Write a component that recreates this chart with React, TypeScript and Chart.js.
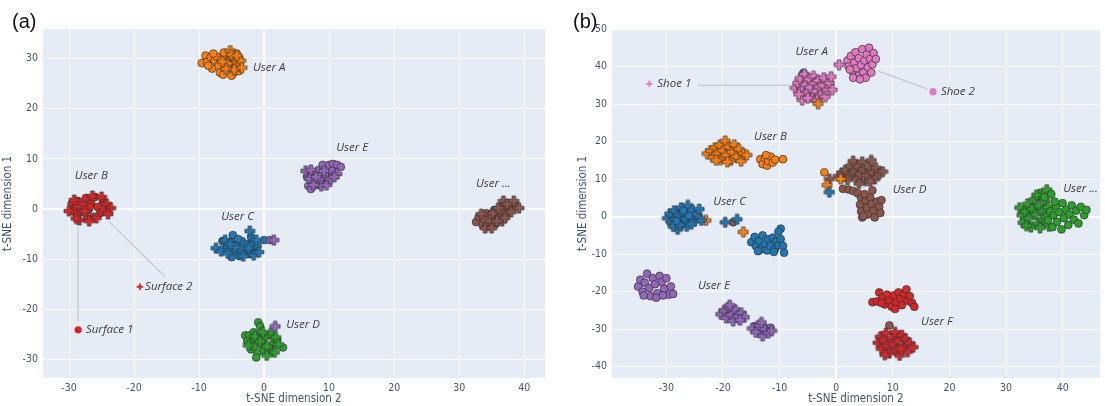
import React, { useEffect, useRef } from "react";
import { Chart, registerables } from "chart.js";

Chart.register(...registerables);

type P = [number, number];

const BLUE = "#1f77b4";
const ORANGE = "#ff7f0e";
const GREEN = "#2ca02c";
const RED = "#d62728";
const PURPLE = "#9467bd";
const BROWN = "#8c564b";
const PINK = "#e377c2";

// ---------------- Panel (a) data ----------------
const aUserACircles: P[] = [[-9.6,29.1],[-9.0,30.6],[-8.8,29.3],[-8.2,30.3],[-8.0,28.0],[-7.6,29.6],[-7.3,30.4],[-7.0,28.6],[-6.8,27.2],[-6.6,29.8],[-6.3,26.8],[-6.0,30.4],[-5.8,28.2],[-5.5,29.4],[-5.2,30.3],[-4.8,27.0],[-4.5,28.8],[-4.2,31.0],[-3.9,27.5],[-3.8,30.0],[-7.8,31.0],[-8.6,28.6],[-6.2,31.2],[-5.0,26.6]];
const aUserACrosses: P[] = [[-5.2,31.6],[-4.8,30.2],[-4.4,29.2],[-4.0,28.6],[-3.6,29.6],[-5.6,29.0],[-4.6,27.8],[-5.9,28.0],[-3.4,28.2],[-5.0,30.8],[-6.4,29.4],[-4.2,30.6]];
const aUserBCircles: P[] = [[-29.6,1.0],[-29.0,0.2],[-28.6,1.6],[-28.2,-0.6],[-27.8,0.8],[-27.4,2.2],[-27.0,-0.2],[-26.6,1.2],[-26.2,-1.6],[-26.0,2.4],[-25.6,0.4],[-25.2,-0.8],[-28.8,-1.2],[-27.2,-1.8],[-24.8,1.4],[-29.4,-0.4],[-26.8,0.4]];
const aUserBCrosses: P[] = [[-30.0,-0.4],[-29.2,1.8],[-28.4,-2.2],[-27.6,-0.4],[-26.4,2.6],[-25.0,2.4],[-24.6,-0.2],[-24.2,1.0],[-23.6,0.2],[-25.8,-1.8],[-24.0,-1.0],[-28.9,-1.9],[-26.9,-2.4]];
const aUserCCircles: P[] = [[-6.4,-6.4],[-5.8,-7.8],[-5.2,-6.6],[-4.8,-5.2],[-4.6,-8.6],[-4.2,-7.2],[-3.8,-9.4],[-3.4,-6.4],[-3.0,-8.2],[-2.6,-7.0],[-2.2,-9.0],[-1.8,-6.8],[-1.4,-8.2],[-1.0,-7.4],[-2.0,-5.6],[-5.0,-9.6],[-3.6,-8.0],[0.0,-6.2],[-4.0,-6.0]];
const aUserCCrosses: P[] = [[-7.4,-7.8],[-6.6,-8.4],[-6.0,-6.2],[-5.6,-8.8],[-4.4,-7.6],[-3.2,-9.4],[-2.4,-7.8],[-1.6,-9.2],[-2.2,-4.4],[-1.2,-6.2],[-5.2,-7.0],[-0.8,-8.6]];
const aUserDCircles: P[] = [[-0.9,-22.6],[-0.6,-23.4],[-2.9,-25.2],[-2.3,-25.2],[-1.6,-24.6],[-0.8,-25.6],[-1.8,-26.6],[-0.4,-27.0],[1.4,-26.8],[2.0,-26.2],[2.9,-27.6],[-2.0,-28.0],[-1.0,-28.6],[0.0,-28.2],[1.2,-28.4],[-1.2,-29.6],[-1.6,-27.4],[0.8,-25.2],[-2.6,-26.4]];
const aUserDCrosses: P[] = [[-1.4,-25.4],[0.2,-25.4],[1.0,-24.8],[1.8,-25.6],[2.2,-27.0],[0.4,-27.4],[1.6,-28.6],[0.4,-29.2],[-0.6,-26.4],[-2.4,-27.2],[-0.2,-24.6]];
const aUserECircles: P[] = [[6.6,6.4],[6.8,4.6],[7.4,5.6],[7.8,7.0],[8.4,7.8],[8.6,5.8],[9.0,8.8],[9.4,6.8],[10.0,8.8],[10.6,9.0],[11.2,8.8],[11.8,8.4],[10.4,7.6],[9.8,5.6],[7.2,4.0],[8.2,4.8]];
const aUserECrosses: P[] = [[6.4,7.6],[7.2,7.8],[7.0,6.0],[8.0,6.4],[8.8,4.6],[9.6,4.8],[10.2,6.0],[11.2,7.0],[9.2,7.6],[7.6,4.8],[10.8,6.4]];
const aPurpleStrayCircles: P[] = [[0.9,-6.2]];
const aPurpleStrayCrosses: P[] = [[1.5,-6.2],[1.7,-23.4]];
const aUserXCircles: P[] = [[32.6,-2.6],[33.0,-1.6],[33.6,-3.2],[33.8,-2.0],[34.2,-0.8],[34.6,-2.6],[35.0,-1.4],[35.4,-0.2],[35.6,-3.0],[36.0,-1.8],[36.4,-0.4],[36.8,0.6],[37.2,-1.0],[37.6,0.2],[38.2,0.8],[38.8,0.6],[34.2,-3.6]];
const aUserXCrosses: P[] = [[33.4,-1.0],[34.0,-3.8],[35.0,-3.8],[35.2,-0.8],[36.0,0.2],[36.6,-2.4],[36.8,1.6],[37.4,1.0],[38.0,-0.6],[38.4,1.6],[39.2,0.2],[37.0,-1.8],[35.8,-2.4]];
const aSurface1: P[] = [[-28.6,-24.1]];
const aSurface2: P[] = [[-19.1,-15.5]];

const aLabelText = ["User A", "User B", "User C", "User D", "User E", "User ...", "Surface 1", "Surface 2"];
const aLabelX = [-1.7, -29.1, -6.6, 3.4, 11.1, 32.6, -27.4, -18.3];
const aLabelY = [28.1, 6.6, -1.6, -23.1, 12.2, 5.0, -24.1, -15.5];
const aLinks: [number, number, number, number][] = [[-28.6, -3.2, -28.6, -22.3], [-23.8, -2.6, -15.2, -13.5]];

// ---------------- Panel (b) data ----------------
const bUserACrosses: P[] = [[-7.2,34.3],[-6.8,35.6],[-6.4,36.8],[-6.0,34.0],[-6.0,31.1],[-5.6,38.0],[-5.4,35.2],[-5.2,33.0],[-4.8,36.6],[-4.6,34.4],[-4.2,31.8],[-4.0,37.4],[-3.8,35.6],[-3.6,33.4],[-3.2,36.2],[-3.0,34.6],[-2.8,32.4],[-2.4,35.0],[-2.2,37.0],[-1.9,32.0],[-1.6,33.8],[-1.2,35.6],[-0.7,33.8],[-6.6,32.6],[-5.0,31.6],[-3.4,31.0],[-0.9,37.3],[0.5,40.5]];
const bUserACircles: P[] = [[2.0,41.6],[2.2,40.0],[2.6,42.8],[2.8,38.8],[3.2,41.0],[3.4,43.8],[3.6,39.6],[3.8,37.4],[4.0,42.2],[4.4,40.4],[4.6,44.6],[4.8,38.4],[5.0,41.6],[5.4,43.2],[5.6,39.8],[5.8,45.0],[6.0,42.0],[6.4,40.6],[6.6,43.6],[7.0,42.0],[5.2,37.0],[3.0,37.0],[4.2,36.6],[6.2,38.4],[2.4,39.2]];
const bShoe1: P[] = [[-33.0,35.4]];
const bShoe2: P[] = [[17.1,33.3]];
const bUserBCrosses: P[] = [[-22.8,16.8],[-22.2,17.6],[-21.8,15.8],[-21.4,18.4],[-21.0,16.8],[-20.6,19.0],[-20.4,15.2],[-20.0,17.6],[-19.6,20.2],[-19.4,16.4],[-19.0,18.6],[-18.6,15.0],[-18.4,17.2],[-18.0,19.2],[-17.6,16.0],[-17.2,18.0],[-16.8,14.8],[-16.4,16.8],[-15.8,16.4],[-21.2,15.0],[-19.2,14.6]];
const bUserBCircles: P[] = [[-13.4,15.3],[-13.0,14.0],[-12.6,15.6],[-12.2,13.6],[-12.0,14.8],[-11.6,16.0],[-11.2,14.4],[-10.8,15.2],[-9.4,15.3],[-12.4,16.4]];
const bUserDCrosses: P[] = [[0.4,10.8],[1.0,11.6],[1.6,12.4],[2.2,11.0],[2.6,13.6],[3.0,14.8],[3.2,12.0],[3.6,10.2],[3.8,13.4],[4.2,11.4],[4.6,14.6],[4.8,12.6],[5.2,9.6],[5.4,11.0],[5.8,13.2],[6.2,15.0],[6.4,11.8],[6.8,10.0],[7.0,13.0],[7.6,11.4],[8.2,12.0],[2.0,9.8],[4.0,8.8],[6.0,9.4],[-1.2,10.0]];
const bUserDCircles: P[] = [[1.2,7.4],[2.2,7.2],[3.0,6.8],[3.8,6.2],[4.4,5.0],[4.2,3.2],[4.4,1.4],[4.6,-0.2],[5.2,4.2],[5.4,2.4],[5.6,0.6],[6.0,5.2],[6.2,3.4],[6.6,1.6],[6.8,-0.2],[7.2,4.0],[7.6,2.6],[8.0,4.4],[7.8,1.0],[6.4,7.0],[5.0,6.0],[4.8,0.2],[-18.2,-1.5],[9.4,-29.0]];
const bOrangeStrayCircles: P[] = [[-2.1,11.8]];
const bOrangeStrayCrosses: P[] = [[-1.6,8.4],[0.8,10.0],[-3.2,30.1],[-23.0,-1.0],[-16.4,-4.1]];
const bBlueStrayCircles: P[] = [[-5.8,38.3]];
const bUserCCrosses: P[] = [[-29.8,-0.4],[-29.4,0.8],[-29.0,-1.8],[-28.6,1.6],[-28.4,-0.6],[-28.0,-3.4],[-27.8,0.4],[-27.4,2.4],[-27.2,-1.4],[-26.8,0.8],[-26.4,-2.6],[-26.2,3.0],[-25.8,-0.2],[-25.4,1.8],[-25.0,-1.2],[-24.6,0.6],[-24.2,2.0],[-23.8,-1.0],[-28.8,-2.6],[-26.6,-0.6],[-25.6,-2.0],[-27.6,-2.2],[-19.6,-1.5],[-17.5,-0.7],[-1.2,6.5]];
const bUserCCircles: P[] = [[-28.2,-1.2],[-26.0,0.2],[-27.0,1.6],[-15.0,-6.8],[-14.4,-5.4],[-14.2,-7.8],[-13.6,-6.4],[-13.4,-8.8],[-13.0,-5.0],[-12.6,-7.4],[-12.2,-9.0],[-12.0,-6.0],[-11.6,-7.8],[-11.2,-5.6],[-10.8,-8.6],[-10.6,-6.6],[-10.2,-7.6],[-9.8,-6.0],[-9.4,-7.8],[-9.2,-9.6],[-9.8,-3.2],[-10.2,-4.0],[-13.8,-9.2],[-11.0,-9.4]];
const bUserECircles: P[] = [[-35.0,-18.6],[-34.6,-16.8],[-34.2,-20.0],[-33.8,-17.6],[-33.4,-15.2],[-33.0,-19.0],[-32.8,-21.2],[-32.4,-16.4],[-32.0,-18.0],[-31.6,-20.4],[-31.2,-15.8],[-30.8,-17.4],[-30.4,-19.2],[-30.0,-16.4],[-29.6,-20.8],[-29.2,-18.6],[-28.8,-20.6],[-34.0,-21.0],[-31.8,-21.6],[-30.6,-21.0],[-14.4,-29.2],[-13.8,-30.4],[-12.8,-29.4],[-12.2,-30.6],[-11.6,-29.6],[-13.4,-31.2]];
const bUserECrosses: P[] = [[-20.4,-26.0],[-19.8,-25.0],[-19.4,-27.0],[-19.0,-24.2],[-18.6,-26.2],[-18.2,-27.8],[-17.8,-24.8],[-17.4,-26.6],[-16.8,-25.6],[-16.2,-26.8],[-18.8,-23.6],[-17.0,-27.6],[-14.8,-29.8],[-14.2,-30.8],[-13.6,-29.0],[-13.0,-31.8],[-12.6,-30.0],[-12.0,-31.0],[-11.4,-30.4],[-13.2,-28.2]];
const bUserFCircles: P[] = [[6.4,-22.8],[7.2,-22.6],[7.6,-20.2],[8.2,-21.6],[8.6,-23.4],[9.0,-20.8],[9.4,-22.4],[9.8,-24.0],[10.2,-21.0],[10.6,-22.8],[11.0,-20.2],[11.4,-21.8],[11.6,-23.6],[12.0,-20.6],[12.4,-19.4],[12.6,-22.4],[13.0,-21.2],[13.4,-23.0],[13.8,-24.0],[10.4,-24.6],[8.0,-23.0]];
const bUserFCrosses: P[] = [[7.4,-33.6],[7.8,-32.0],[8.0,-35.2],[8.4,-33.0],[8.8,-31.0],[9.0,-34.4],[9.4,-36.4],[9.8,-32.4],[10.0,-34.0],[10.4,-30.8],[10.6,-35.6],[11.0,-33.0],[11.2,-37.0],[11.6,-31.6],[12.0,-34.6],[12.2,-32.6],[12.6,-36.0],[13.0,-33.8],[13.6,-34.8],[8.6,-36.8],[11.4,-35.2]];
const bUserXCrosses: P[] = [[32.4,2.4],[32.8,0.4],[33.0,-1.6],[33.4,1.4],[33.8,3.4],[34.0,-0.4],[34.4,-2.8],[34.6,2.0],[35.0,4.6],[35.2,0.6],[35.6,-1.8],[35.8,3.0],[36.0,6.0],[36.4,1.4],[36.6,-0.8],[36.8,4.4],[37.2,7.2],[37.4,2.6],[37.6,-2.6],[36.0,-3.0],[33.6,-2.4],[35.4,5.8],[37.0,0.0]];
const bUserXCircles: P[] = [[37.4,-1.0],[37.8,1.4],[38.2,-2.8],[38.4,0.4],[38.8,2.8],[39.0,-1.4],[39.4,1.2],[39.8,-3.4],[40.0,3.6],[40.2,-0.4],[40.6,1.8],[41.0,-2.2],[41.2,0.6],[41.6,3.0],[42.0,-0.8],[42.4,1.6],[42.8,-1.8],[43.2,2.6],[43.8,0.4],[44.2,1.8],[38.6,4.0],[36.8,5.2],[38.0,6.0]];

const bLabelText = ["User A", "Shoe 1", "Shoe 2", "User B", "User C", "User D", "User E", "User F", "User ..."];
const bLabelX = [-7.2, -31.6, 18.5, -14.5, -21.7, 10.0, -24.4, 15.0, 40.1];
const bLabelY = [44.0, 35.4, 33.3, 21.4, 4.0, 7.3, -18.5, -28.0, 7.5];
const bLinks: [number, number, number, number][] = [[-24.4, 35.0, -8.1, 35.0], [7.4, 38.8, 16.1, 34.0]];

const OUTLINE = "rgba(50,50,50,0.9)";
const TICK_COLOR = "#44546a";
const AXIS_FONT = "'Liberation Sans Narrow', 'DejaVu Sans Condensed', 'Open Sans', sans-serif";

function plusImage(color: string, size = 10, arm = 3.6): HTMLCanvasElement {
  const c = document.createElement("canvas");
  const o = 1;
  c.width = size + 2 * o;
  c.height = size + 2 * o;
  const ctx = c.getContext("2d")!;
  const s = size;
  const m = (s - arm) / 2;
  ctx.beginPath();
  ctx.moveTo(o + m, o);
  ctx.lineTo(o + m + arm, o);
  ctx.lineTo(o + m + arm, o + m);
  ctx.lineTo(o + s, o + m);
  ctx.lineTo(o + s, o + m + arm);
  ctx.lineTo(o + m + arm, o + m + arm);
  ctx.lineTo(o + m + arm, o + s);
  ctx.lineTo(o + m, o + s);
  ctx.lineTo(o + m, o + m + arm);
  ctx.lineTo(o, o + m + arm);
  ctx.lineTo(o, o + m);
  ctx.lineTo(o + m, o + m);
  ctx.closePath();
  ctx.fillStyle = color;
  ctx.fill();
  ctx.strokeStyle = OUTLINE;
  ctx.lineWidth = 0.8;
  ctx.stroke();
  return c;
}

const toXY = (pts: P[]) => pts.map(([x, y]) => ({ x, y }));

function circles(pts: P[], color: string, outline = true, r = 3.9) {
  return {
    data: toXY(pts),
    pointStyle: "circle",
    pointRadius: r,
    pointHoverRadius: r,
    backgroundColor: color,
    borderColor: outline ? OUTLINE : color,
    borderWidth: outline ? 0.8 : 0,
  };
}
function crosses(pts: P[], color: string) {
  const img = plusImage(color);
  return { data: toXY(pts), pointStyle: img, pointRadius: 4, pointHoverRadius: 4, backgroundColor: color, borderColor: color };
}
function thinCross(pts: P[], color: string) {
  return { data: toXY(pts), pointStyle: "cross", pointRadius: 3.2, pointHoverRadius: 3.2, backgroundColor: color, borderColor: color, borderWidth: 1.8 };
}

function makePlugins(texts: string[], xs: number[], ys: number[], links: [number, number, number, number][]) {
  return [
    {
      id: "plotBg",
      beforeDraw(chart: any) {
        const { ctx, chartArea: a } = chart;
        ctx.save();
        ctx.fillStyle = "#e5ecf6";
        ctx.fillRect(a.left, a.top, a.right - a.left, a.bottom - a.top);
        ctx.restore();
      },
    },
    {
      id: "annots",
      afterDatasetsDraw(chart: any) {
        const { ctx, scales } = chart;
        const sx = scales.x, sy = scales.y;
        ctx.save();
        ctx.strokeStyle = "#c9cdd3";
        ctx.lineWidth = 1.5;
        links.forEach(([x1, y1, x2, y2]) => {
          ctx.beginPath();
          ctx.moveTo(sx.getPixelForValue(x1), sy.getPixelForValue(y1));
          ctx.lineTo(sx.getPixelForValue(x2), sy.getPixelForValue(y2));
          ctx.stroke();
        });
        ctx.font = "italic 11.5px 'Open Sans', sans-serif";
        ctx.fillStyle = "#3c3c3c";
        ctx.textAlign = "left";
        ctx.textBaseline = "middle";
        texts.forEach((t, i) => {
          ctx.fillText(t, sx.getPixelForValue(xs[i]), sy.getPixelForValue(ys[i]));
        });
        ctx.restore();
      },
    },
  ];
}

function buildConfig(datasets: any[], range: { xmin: number; xmax: number; ymin: number; ymax: number }, pad: any, yWidth: number, plugins: any[]) {
  const n = datasets.length;
  const ds = datasets.map((d, i) => ({ ...d, order: n - i, showLine: false }));
  const font = { family: AXIS_FONT, size: 10.5 };
  const titleFont = { family: AXIS_FONT, size: 11.5 };
  return {
    type: "scatter",
    data: { datasets: ds },
    options: {
      animation: false,
      responsive: false,
      events: [],
      layout: { padding: pad },
      plugins: { legend: { display: false }, tooltip: { enabled: false } },
      scales: {
        x: {
          type: "linear",
          min: range.xmin,
          max: range.xmax,
          ticks: { stepSize: 10, includeBounds: false, color: TICK_COLOR, font, padding: 4, maxRotation: 0, autoSkip: false },
          grid: { color: "#ffffff", lineWidth: (c: any) => (c.tick && c.tick.value === 0 ? 2 : 1), drawTicks: false },
          border: { display: false },
          title: { display: true, text: "t-SNE dimension 2", color: TICK_COLOR, font: titleFont, padding: { top: 0, bottom: 0 } },
          afterFit: (s: any) => { s.height = 28; },
        },
        y: {
          type: "linear",
          min: range.ymin,
          max: range.ymax,
          ticks: { stepSize: 10, includeBounds: false, color: TICK_COLOR, font, padding: 5, autoSkip: false },
          grid: { color: "#ffffff", lineWidth: (c: any) => (c.tick && c.tick.value === 0 ? 2 : 1), drawTicks: false },
          border: { display: false },
          title: { display: true, text: "t-SNE dimension 1", color: TICK_COLOR, font: titleFont, padding: { top: 1, bottom: 0 } },
          afterFit: (s: any) => { s.width = yWidth; },
        },
      },
    },
    plugins,
  };
}

export default function App() {
  const refA = useRef<HTMLCanvasElement>(null);
  const refB = useRef<HTMLCanvasElement>(null);

  useEffect(() => {
    const dsA = [
      circles(aUserACircles, ORANGE), crosses(aUserACrosses, ORANGE),
      circles(aUserBCircles, RED), crosses(aUserBCrosses, RED),
      circles(aUserCCircles, BLUE), crosses(aUserCCrosses, BLUE),
      circles(aUserDCircles, GREEN), crosses(aUserDCrosses, GREEN),
      circles(aUserECircles, PURPLE), crosses(aUserECrosses, PURPLE),
      circles(aPurpleStrayCircles, PURPLE), crosses(aPurpleStrayCrosses, PURPLE),
      circles(aUserXCircles, BROWN), crosses(aUserXCrosses, BROWN),
      circles(aSurface1, RED, false, 3.6), thinCross(aSurface2, RED),
    ];
    const dsB = [
      circles(bBlueStrayCircles, BLUE), crosses(bUserACrosses, PINK),
      circles(bUserACircles, PINK),
      crosses(bUserBCrosses, ORANGE), circles(bUserBCircles, ORANGE),
      crosses(bUserDCrosses, BROWN), circles(bUserDCircles, BROWN),
      circles(bOrangeStrayCircles, ORANGE), crosses(bOrangeStrayCrosses, ORANGE),
      crosses(bUserCCrosses, BLUE), circles(bUserCCircles, BLUE),
      circles(bUserECircles, PURPLE), crosses(bUserECrosses, PURPLE),
      circles(bUserFCircles, RED), crosses(bUserFCrosses, RED),
      crosses(bUserXCrosses, GREEN), circles(bUserXCircles, GREEN),
      thinCross(bShoe1, PINK), circles(bShoe2, PINK, false, 3.6),
    ];
    const chartA = new Chart(refA.current!, buildConfig(
      dsA, { xmin: -34, xmax: 43.2, ymin: -33.7, ymax: 35.9 },
      { top: 29, right: 7, bottom: 0, left: 0 }, 43,
      makePlugins(aLabelText, aLabelX, aLabelY, aLinks)) as any);
    const chartB = new Chart(refB.current!, buildConfig(
      dsB, { xmin: -39.6, xmax: 46.6, ymin: -43, ymax: 50 },
      { top: 29, right: 5, bottom: 0, left: 23 }, 37,
      makePlugins(bLabelText, bLabelX, bLabelY, bLinks)) as any);
    return () => {
      chartA.destroy();
      chartB.destroy();
    };
  }, []);

  const panelLabel: React.CSSProperties = {
    position: "absolute",
    fontFamily: "'Liberation Sans', Arial, sans-serif",
    fontSize: 20,
    color: "#111",
    lineHeight: "22px",
  };

  return (
    <div style={{ position: "fixed", left: 0, top: 0, width: 1105, height: 406, background: "#fff", overflow: "hidden" }}>
      <canvas ref={refA} width={552} height={406} style={{ position: "absolute", left: 0, top: 0, width: 552, height: 406 }} />
      <canvas ref={refB} width={553} height={406} style={{ position: "absolute", left: 552, top: 0, width: 553, height: 406 }} />
      <div style={{ ...panelLabel, left: 12, top: 10 }}>(a)</div>
      <div style={{ ...panelLabel, left: 573, top: 10 }}>(b)</div>
    </div>
  );
}
